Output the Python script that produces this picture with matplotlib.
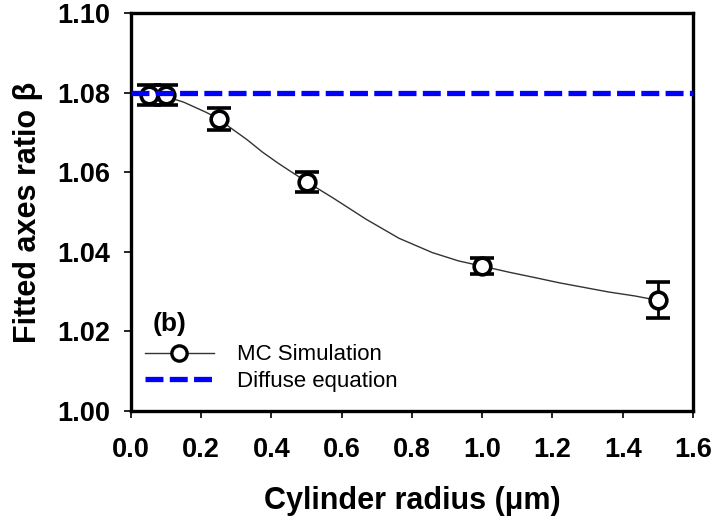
import matplotlib
matplotlib.use('Agg')
import matplotlib.pyplot as plt
from matplotlib.lines import Line2D

# punkty symulacji MC
radius = [0.05, 0.10, 0.25, 0.50, 1.00, 1.50]
beta = [1.0793, 1.0793, 1.0734, 1.0576, 1.0364, 1.0278]
beta_err = [0.0025, 0.0025, 0.0027, 0.0025, 0.0021, 0.0045]

# krzywa dopasowania
fit_x = [0.05, 0.10, 0.15, 0.215, 0.25, 0.281, 0.33, 0.375, 0.42, 0.451, 0.50, 0.574,
         0.669, 0.763, 0.858, 0.933, 1.00, 1.075, 1.151, 1.22, 1.293, 1.36, 1.435, 1.50]
fit_y = [1.0797, 1.0790, 1.0776, 1.0750, 1.0734, 1.0713, 1.0682, 1.0650, 1.0622, 1.0604,
         1.0576, 1.0536, 1.0482, 1.0434, 1.0398, 1.0377, 1.0364, 1.0349, 1.0335, 1.0322,
         1.0310, 1.0299, 1.0289, 1.0278]

diffuse_beta = 1.08

x_ticks = [0.0, 0.2, 0.4, 0.6, 0.8, 1.0, 1.2, 1.4, 1.6]
y_ticks = [1.00, 1.02, 1.04, 1.06, 1.08, 1.10]

plt.rcParams['font.family'] = ['Liberation Sans', 'DejaVu Sans']

fig = plt.figure(figsize=(7.17, 5.20), dpi=100)
ax = fig.add_axes([0.1827, 0.2096, 0.7838, 0.7654])

ax.plot(fit_x, fit_y, color='#333333', linewidth=1.0, zorder=2)
ax.axhline(diffuse_beta, color='#0000ff', linewidth=3.8, dashes=(3.4, 1.2), zorder=4)
ax.errorbar(radius, beta, yerr=beta_err, fmt='o', color='black', markersize=12,
            markerfacecolor='white', markeredgewidth=2.6, elinewidth=2.0,
            capsize=8.5, capthick=2.2, zorder=3)

ax.set_xlim(0.0, 1.6)
ax.set_ylim(1.00, 1.10)
ax.set_xticks(x_ticks)
ax.set_yticks(y_ticks)
ax.set_xticklabels([f'{v:.1f}' for v in x_ticks], fontsize=19.5, fontweight='bold')
ax.set_yticklabels([f'{v:.2f}' for v in y_ticks], fontsize=19.5, fontweight='bold')
ax.tick_params(direction='out', length=5, width=1.2)
ax.tick_params(axis='x', pad=14)
ax.tick_params(axis='y', pad=10)

for s in ax.spines.values():
    s.set_linewidth(2.4)

ax.set_xlabel('Cylinder radius (μm)', fontsize=22, fontweight='bold', labelpad=16)
ax.set_ylabel('Fitted axes ratio β', fontsize=22, fontweight='bold', labelpad=10)

ax.text(0.039, 0.201, '(b)', transform=ax.transAxes, fontsize=19, fontweight='bold',
        va='baseline')

handles = [
    Line2D([], [], color='#333333', linewidth=1.0, marker='o', markersize=11,
           markerfacecolor='white', markeredgecolor='black', markeredgewidth=2.4),
    Line2D([], [], color='#0000ff', linewidth=3.8, dashes=(3.4, 1.2)),
]
ax.legend(handles, ['MC Simulation', 'Diffuse equation'], loc='upper left',
          bbox_to_anchor=(0.025, 0.1675), borderaxespad=0, borderpad=0,
          frameon=False, fontsize=16, handlelength=3.1, handletextpad=1.04,
          labelspacing=0.235)

fig.savefig('out.png', dpi=100)
